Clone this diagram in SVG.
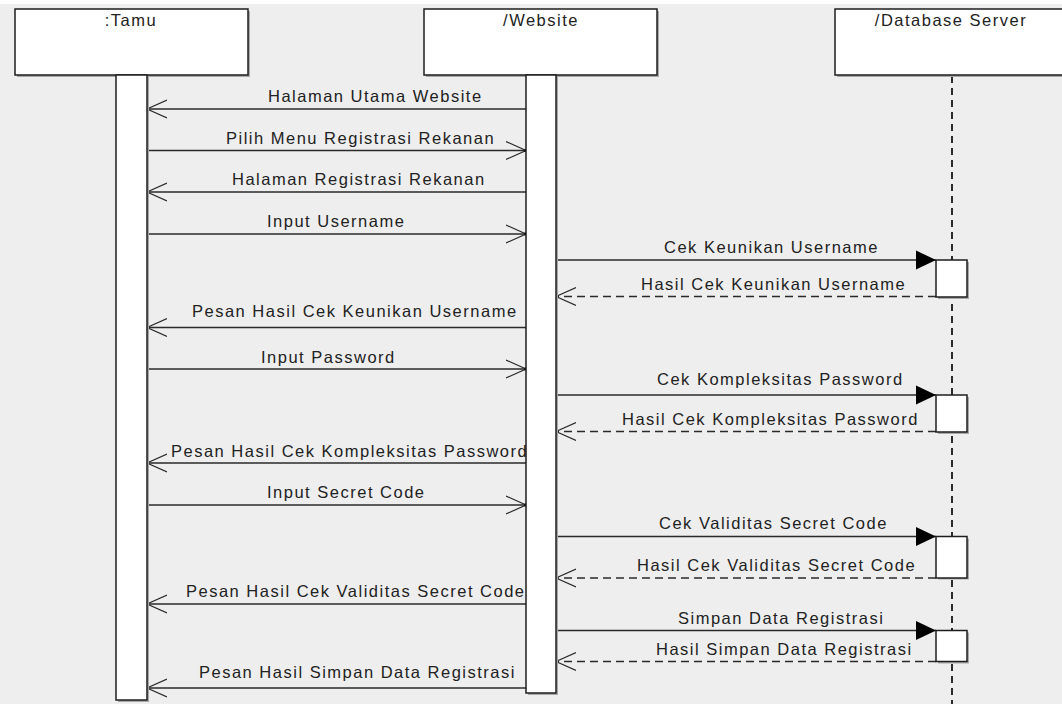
<svg xmlns="http://www.w3.org/2000/svg" width="1062" height="704" viewBox="0 0 1062 704">
  <style>
    .bg { fill: #eeeeee; }
    .head { fill: #ffffff; stroke: #1e1e1e; stroke-width: 1.5; }
    .shadow { fill: #a8a8a8; }
    .act { fill: #ffffff; stroke: #1e1e1e; stroke-width: 1.5; }
    .life { stroke: #2a2a2a; stroke-width: 2; stroke-dasharray: 7 5; fill: none; }
    .msg { stroke: #2a2a2a; stroke-width: 1.4; fill: none; }
    .call { marker-end: url(#open); }
    .sync { marker-end: url(#filled); }
    .ret { stroke-dasharray: 8 5; marker-end: url(#open); }
    text { font-family: "Liberation Sans", Arial, sans-serif; font-size: 16.5px; letter-spacing: 1.5px; fill: #222222; }
    .title { text-anchor: middle; }
  </style>
  <defs>
    <marker id="open" markerUnits="userSpaceOnUse" markerWidth="24" markerHeight="22" refX="20" refY="10" orient="auto">
      <path d="M0,1 L20,10 L0,19" fill="none" stroke="#2a2a2a" stroke-width="1.2"/>
      <rect x="18.5" y="8.5" width="3" height="3" fill="#000"/>
    </marker>
    <marker id="filled" markerUnits="userSpaceOnUse" markerWidth="24" markerHeight="22" refX="20" refY="10" orient="auto">
      <path d="M0,0.5 L20,10 L0,19.5 Z" fill="#000"/>
    </marker>
  </defs>

  <!-- canvas -->
  <rect x="0" y="0" width="1062" height="704" fill="#ffffff"/>
  <rect class="bg" x="0" y="4" width="1062" height="700"/>

  <!-- lifelines -->
  <g id="lifelines">
    <line class="life" x1="952" y1="76" x2="952" y2="704"/>
  </g>

  <!-- message labels -->
  <g id="labels">
    <text x="268" y="102">Halaman Utama Website</text>
    <text x="226" y="143.5">Pilih Menu Registrasi Rekanan</text>
    <text x="232" y="185">Halaman Registrasi Rekanan</text>
    <text x="267" y="227">Input Username</text>
    <text x="664" y="253">Cek Keunikan Username</text>
    <text x="641" y="289.5">Hasil Cek Keunikan Username</text>
    <text x="192" y="317">Pesan Hasil Cek Keunikan Username</text>
    <text x="261" y="363">Input Password</text>
    <text x="657" y="384.5">Cek Kompleksitas Password</text>
    <text x="622" y="425">Hasil Cek Kompleksitas Password</text>
    <text x="171" y="456.5">Pesan Hasil Cek Kompleksitas Password</text>
    <text x="267" y="498">Input Secret Code</text>
    <text x="659" y="528.5">Cek Validitas Secret Code</text>
    <text x="637" y="571">Hasil Cek Validitas Secret Code</text>
    <text x="186" y="597">Pesan Hasil Cek Validitas Secret Code</text>
    <text x="678" y="623.5">Simpan Data Registrasi</text>
    <text x="656" y="654.5">Hasil Simpan Data Registrasi</text>
    <text x="199" y="677.5">Pesan Hasil Simpan Data Registrasi</text>
  </g>

  <!-- connectors -->
  <g id="connectors">
    <line class="msg call" x1="526" y1="109" x2="147" y2="109"/>
    <line class="msg call" x1="147" y1="150.5" x2="526" y2="150.5"/>
    <line class="msg call" x1="526" y1="192" x2="147" y2="192"/>
    <line class="msg call" x1="147" y1="234" x2="526" y2="234"/>
    <line class="msg sync" x1="556" y1="260" x2="936" y2="260"/>
    <line class="msg ret" x1="936" y1="296.5" x2="556" y2="296.5"/>
    <line class="msg call" x1="526" y1="327.5" x2="147" y2="327.5"/>
    <line class="msg call" x1="147" y1="369" x2="526" y2="369"/>
    <line class="msg sync" x1="556" y1="395" x2="936" y2="395"/>
    <line class="msg ret" x1="936" y1="431.5" x2="556" y2="431.5"/>
    <line class="msg call" x1="526" y1="463" x2="147" y2="463"/>
    <line class="msg call" x1="147" y1="505" x2="526" y2="505"/>
    <line class="msg sync" x1="556" y1="536.5" x2="936" y2="536.5"/>
    <line class="msg ret" x1="936" y1="578" x2="556" y2="578"/>
    <line class="msg call" x1="526" y1="604" x2="147" y2="604"/>
    <line class="msg sync" x1="556" y1="630.5" x2="936" y2="630.5"/>
    <line class="msg ret" x1="936" y1="661.5" x2="556" y2="661.5"/>
    <line class="msg call" x1="526" y1="688" x2="147" y2="688"/>
  </g>

  <!-- participant: Tamu -->
  <g id="tamu">
    <rect class="shadow" x="17" y="11" width="233" height="66"/>
    <rect class="head" x="15" y="9" width="233" height="66"/>
    <text class="title" x="131" y="26">:Tamu</text>
    <rect class="shadow" x="118" y="77" width="31" height="625"/>
    <rect class="act" x="116" y="75" width="31" height="625"/>
  </g>

  <!-- participant: Website -->
  <g id="website">
    <rect class="shadow" x="426" y="11" width="233" height="66"/>
    <rect class="head" x="424" y="9" width="233" height="66"/>
    <text class="title" x="541" y="26">/Website</text>
    <rect class="shadow" x="528" y="77" width="30" height="618"/>
    <rect class="act" x="526" y="75" width="30" height="618"/>
  </g>

  <!-- participant: Database Server -->
  <g id="database">
    <rect class="shadow" x="837" y="11" width="233" height="66"/>
    <rect class="head" x="835" y="9" width="233" height="66"/>
    <text class="title" x="951" y="26">/Database Server</text>
    <rect class="shadow" x="938" y="262" width="31" height="37"/>
    <rect class="act" x="936" y="260" width="31" height="37"/>
    <rect class="shadow" x="938" y="397" width="31" height="37"/>
    <rect class="act" x="936" y="395" width="31" height="37"/>
    <rect class="shadow" x="938" y="538.5" width="31" height="41"/>
    <rect class="act" x="936" y="536.5" width="31" height="41.5"/>
    <rect class="shadow" x="938" y="632.5" width="31" height="31"/>
    <rect class="act" x="936" y="630.5" width="31" height="31"/>
  </g>
</svg>
